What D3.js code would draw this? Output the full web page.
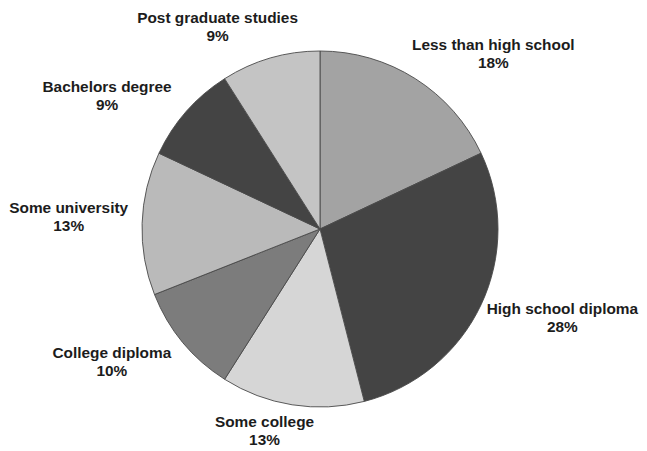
<!DOCTYPE html>
<html>
<head>
<meta charset="utf-8">
<script src="https://cdn.jsdelivr.net/npm/d3@7"></script>
<style>
  html, body { margin: 0; padding: 0; background: #fff; }
  svg { display: block; }
</style>
</head>
<body>
<svg id="chart" width="647" height="451"></svg>
<script>
// Education level distribution (percent)
const categories = [
  "Less than high school",
  "High school diploma",
  "Some college",
  "College diploma",
  "Some university",
  "Bachelors degree",
  "Post graduate studies"
];
const shares = [18, 28, 13, 10, 13, 9, 9];
const shades = ["#a3a3a3", "#444444", "#d6d6d6", "#7c7c7c", "#bababa", "#444444", "#c4c4c4"];

// small per-label adjustments to the outside label placement
const labelNudge = [[28, 0], [2, 2], [-18, 0], [-16, 3], [-2, -5], [-22, 4], [-27, -3]];

const W = 647, H = 451;
const cx = 320, cy = 229, R = 178, gap = 12, halfH = 16;

const svg = d3.select("#chart");
const g = svg.append("g").attr("transform", `translate(${cx},${cy})`);

const rows = categories.map((c, i) => ({ name: c, value: shares[i], color: shades[i], nudge: labelNudge[i] }));

const pie = d3.pie().sort(null).value(d => d.value).startAngle(0).endAngle(2 * Math.PI);
const arc = d3.arc().innerRadius(0).outerRadius(R);
const arcs = pie(rows);

g.selectAll("path.slice")
  .data(arcs)
  .join("path")
  .attr("class", "slice")
  .attr("d", arc)
  .attr("fill", d => d.data.color)
  .attr("stroke", "#4a4a4a")
  .attr("stroke-width", 0.9)
  .attr("stroke-linejoin", "round");

const labels = g.selectAll("text.lbl")
  .data(arcs)
  .join("text")
  .attr("class", "lbl")
  .attr("text-anchor", "middle")
  .attr("font-family", "'Liberation Sans', Arial, sans-serif")
  .attr("font-weight", "bold")
  .attr("font-size", "15.4px")
  .attr("fill", "#1c1c1c");

labels.append("tspan").attr("class", "l1").text(d => d.data.name);
labels.append("tspan").attr("class", "l2").text(d => d.data.value + "%");

labels.each(function (d) {
  const t = d3.select(this);
  const w = t.select("tspan.l1").node().getComputedTextLength();
  const a = (d.startAngle + d.endAngle) / 2;
  const ux = Math.sin(a), uy = -Math.cos(a);
  const lx = (R + gap) * ux + (w / 2) * ux + d.data.nudge[0];
  const ly = (R + gap) * uy + halfH * uy + d.data.nudge[1];
  t.select("tspan.l1").attr("x", lx).attr("y", ly - 5);
  t.select("tspan.l2").attr("x", lx).attr("y", ly + 13);
});
</script>
</body>
</html>
